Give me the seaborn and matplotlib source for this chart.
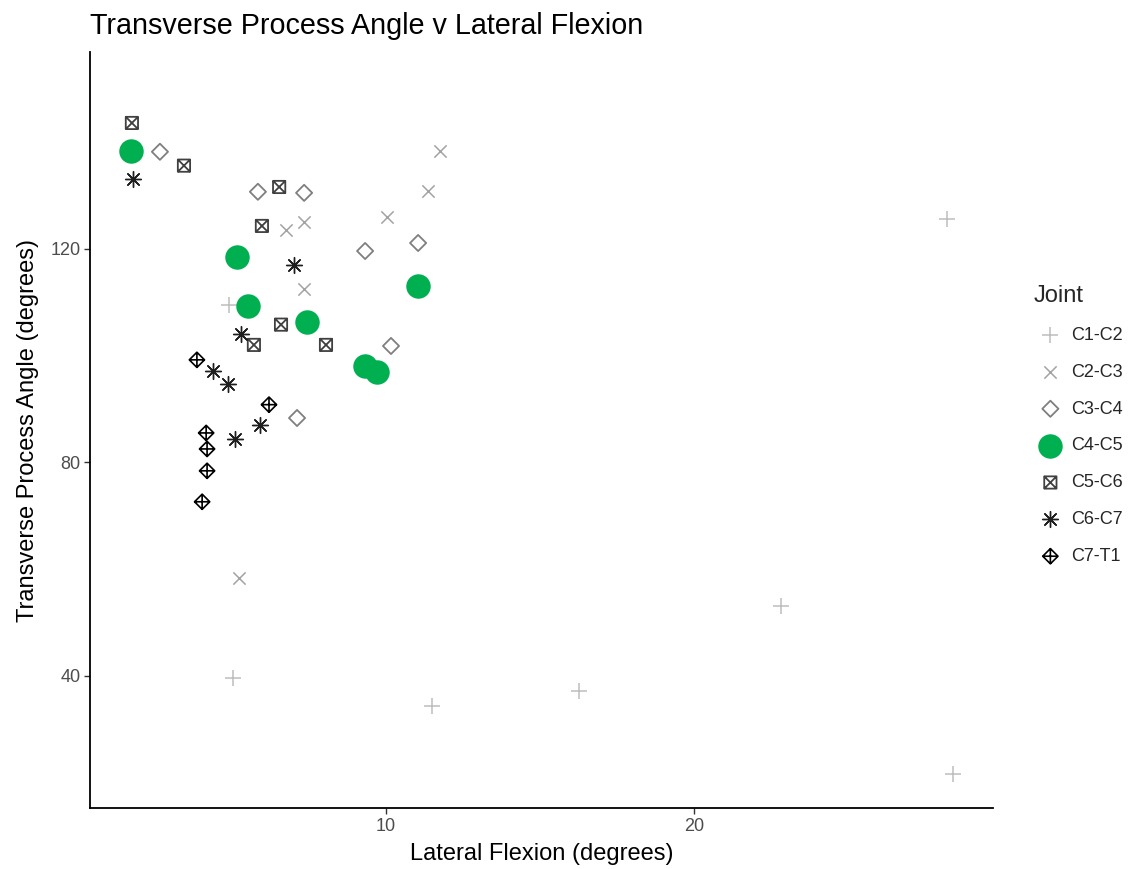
import matplotlib
matplotlib.use("Agg")
import matplotlib.pyplot as plt
from matplotlib.path import Path
import seaborn as sns
import pandas as pd

# Lateral flexion (degrees) and transverse process angle (degrees) per joint
joints = ["C1-C2", "C2-C3", "C3-C4", "C4-C5", "C5-C6", "C6-C7", "C7-T1"]

c1c2_flex = [4.90, 5.03, 11.5, 16.27, 22.82, 28.41, 28.21]
c1c2_angle = [109.5, 39.6, 34.3, 37.2, 53.1, 21.6, 125.6]

c2c3_flex = [11.75, 11.36, 10.03, 7.34, 6.75, 7.34, 5.23]
c2c3_angle = [138.4, 130.9, 126.0, 125.1, 123.6, 112.5, 58.3]

c3c4_flex = [2.66, 5.84, 7.34, 9.32, 11.04, 10.16, 7.11]
c3c4_angle = [138.2, 130.7, 130.5, 119.6, 121.1, 101.8, 88.3]

c4c5_flex = [1.72, 5.16, 5.52, 7.44, 11.04, 9.32, 9.71]
c4c5_angle = [138.4, 118.5, 109.3, 106.3, 113.1, 98.1, 96.9]

c5c6_flex = [1.75, 3.44, 6.53, 5.97, 6.59, 5.71, 8.05]
c5c6_angle = [143.6, 135.6, 131.6, 124.3, 105.8, 102.0, 102.0]

c6c7_flex = [1.79, 7.01, 5.29, 4.38, 4.87, 5.91, 5.10]
c6c7_angle = [133.1, 117.0, 104.1, 97.1, 94.7, 87.0, 84.4]

c7t1_flex = [3.86, 6.20, 4.16, 4.19, 4.19, 4.03]
c7t1_angle = [99.2, 90.8, 85.5, 82.5, 78.4, 72.6]

x_ticks = [10, 20]
y_ticks = [40, 80, 120]

flex = [c1c2_flex, c2c3_flex, c3c4_flex, c4c5_flex, c5c6_flex, c6c7_flex, c7t1_flex]
angle = [c1c2_angle, c2c3_angle, c3c4_angle, c4c5_angle, c5c6_angle, c6c7_angle, c7t1_angle]

df = pd.concat(
    [pd.DataFrame({"flex": fx, "angle": ay, "Joint": j}) for j, fx, ay in zip(joints, flex, angle)],
    ignore_index=True,
)

# Marker paths: open diamond, boxed cross, diamond with plus
M, L, C = Path.MOVETO, Path.LINETO, Path.CLOSEPOLY
diamond = Path([(0, 1), (1, 0), (0, -1), (-1, 0), (0, 1)], [M, L, L, L, C])
boxed_x = Path(
    [(-1, -1), (1, -1), (1, 1), (-1, 1), (-1, -1), (-1, -1), (1, 1), (-1, 1), (1, -1)],
    [M, L, L, L, C, M, L, M, L],
)
diamond_plus = Path(
    [(0, 1), (1, 0), (0, -1), (-1, 0), (0, 1), (-1, 0), (1, 0), (0, -1), (0, 1)],
    [M, L, L, L, C, M, L, M, L],
)

# kind: "line" = stroke-only glyph, "open" = outlined shape, "solid" = filled shape
styles = {
    "C1-C2": dict(marker="+", color="#bdbdbd", s=135, lw=1.1, kind="line"),
    "C2-C3": dict(marker="x", color="#a3a3a3", s=78, lw=1.1, kind="line"),
    "C3-C4": dict(marker=diamond, color="#7f7f7f", s=135, lw=1.3, kind="open"),
    "C4-C5": dict(marker="o", color="#00b050", s=310, lw=0, kind="solid"),
    "C5-C6": dict(marker=boxed_x, color="#404040", s=78, lw=1.3, kind="open"),
    "C6-C7": dict(marker=(8, 2, 0), color="#1f1f1f", s=130, lw=1.0, kind="line"),
    "C7-T1": dict(marker=diamond_plus, color="#000000", s=120, lw=1.2, kind="open"),
}

sns.set_style("white")
plt.rcParams["font.family"] = ["Liberation Sans", "DejaVu Sans"]

fig = plt.figure(figsize=(11.33, 8.69), dpi=100)
ax = fig.add_axes([90 / 1133, 1 - 808 / 869, (993 - 90) / 1133, (808 - 52) / 869])

for j in joints:
    st = styles[j]
    sub = df[df["Joint"] == j]
    if st["kind"] == "line":
        kw = dict(color=st["color"])
    elif st["kind"] == "open":
        kw = dict(facecolor="none", edgecolor=st["color"])
    else:
        kw = dict(facecolor=st["color"], edgecolor=st["color"])
    sns.scatterplot(
        data=sub, x="flex", y="angle", ax=ax,
        marker=st["marker"], s=st["s"], linewidth=st["lw"],
        label=j, legend=False, zorder=3, **kw,
    )

ax.set_xlim(0.39, 29.7)
ax.set_ylim(15.2, 156.9)
ax.set_xticks(x_ticks)
ax.set_yticks(y_ticks)

for side in ["top", "right"]:
    ax.spines[side].set_visible(False)
for side in ["left", "bottom"]:
    ax.spines[side].set_color("black")
    ax.spines[side].set_linewidth(1.3)

ax.tick_params(axis="both", which="major", length=4, width=1.0, color="#333333",
               labelsize=13, labelcolor="#4d4d4d", pad=3, left=True, bottom=True)

ax.set_xlabel("Lateral Flexion (degrees)", fontsize=17, color="black", labelpad=6)
ax.set_ylabel("Transverse Process Angle (degrees)", fontsize=17, color="black", labelpad=8)
ax.set_title("Transverse Process Angle v Lateral Flexion", loc="left", fontsize=20.7,
             color="black", pad=13)

handles, labels = ax.get_legend_handles_labels()
leg = ax.legend(
    handles, labels, title="Joint", frameon=False, fontsize=13, title_fontsize=17,
    loc="center left", bbox_to_anchor=(1026 / 1133, 0.511), bbox_transform=fig.transFigure,
    handlelength=1.9, handletextpad=0.2, labelspacing=1.1, borderaxespad=0,
    alignment="left",
)

fig.savefig("out.png", dpi=100, facecolor="white")
